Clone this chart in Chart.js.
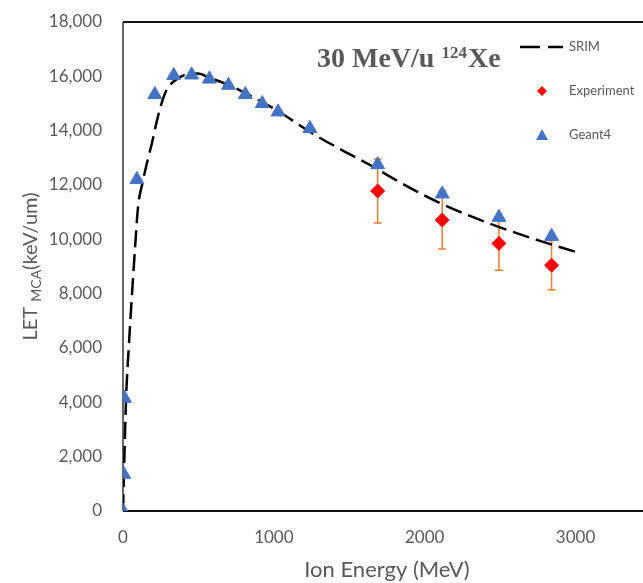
<!DOCTYPE html>
<html>
<head>
<meta charset="utf-8">
<script src="https://cdn.jsdelivr.net/npm/chart.js@4.4.1/dist/chart.umd.min.js"></script>
<style>
  html, body { margin: 0; padding: 0; background: #fff; overflow: hidden; }
  #wrap { width: 643px; height: 583px; overflow: hidden; }
</style>
</head>
<body>
<div id="wrap"><canvas id="let-chart" width="660" height="583"></canvas></div>
<script>
// SRIM stopping curve
const srimEnergy = [0, 2, 7, 20, 40, 57, 80, 100, 130, 167, 190, 222, 250, 277, 300, 365, 410, 495, 573, 692, 811, 923, 1028, 1240, 1430, 1650, 1804, 2057, 2397, 2749, 3000];
const srimLet = [0, 400, 1500, 4100, 6200, 7750, 9700, 11200, 12100, 13000, 13500, 14300, 14900, 15350, 15600, 15930, 16050, 16100, 15950, 15700, 15380, 15050, 14720, 13950, 13350, 12700, 12200, 11450, 10650, 9970, 9540];

// measured LET with error
const expEnergy = [1688, 2116, 2492, 2841];
const expLet = [11780, 10710, 9850, 9050];
const expErr = [1180, 1070, 985, 905];

// Geant4 simulation
const geantEnergy = [0, 5, 10, 92, 211, 336, 455, 573, 699, 811, 923, 1028, 1239, 1688, 2116, 2492, 2841];
const geantLet = [0, 1350, 4150, 12200, 15330, 16030, 16050, 15900, 15670, 15330, 15000, 14690, 14080, 12750, 11670, 10810, 10110];

const xTicks = [0, 1000, 2000, 3000];

const GREY = '#595959';
const FONT = 'Lato, "Open Sans", sans-serif';

const toPoints = (xs, ys) => xs.map((x, i) => ({x: x, y: ys[i]}));

// plot area frame (right edge runs off the page), drawn under the markers
const frame = {
    id: 'frame',
    beforeDatasetsDraw(chart) {
        const {ctx, chartArea: a} = chart;
        ctx.save();
        ctx.strokeStyle = '#111';
        ctx.lineWidth = 2;
        ctx.beginPath();
        ctx.moveTo(a.left, a.top);
        ctx.lineTo(chart.width, a.top);
        ctx.moveTo(a.left, a.bottom);
        ctx.lineTo(chart.width, a.bottom);
        ctx.stroke();
        ctx.strokeStyle = '#333';
        ctx.lineWidth = 1.5;
        ctx.beginPath();
        ctx.moveTo(a.left, a.top);
        ctx.lineTo(a.left, a.bottom);
        ctx.stroke();
        ctx.restore();
    }
};

// vertical error bars for the experiment points
const errorBars = {
    id: 'errorBars',
    beforeDatasetsDraw(chart) {
        const {ctx, scales: {x, y}} = chart;
        ctx.save();
        ctx.strokeStyle = '#ED7D31';
        ctx.lineWidth = 1.5;
        expEnergy.forEach((e, i) => {
            const px = x.getPixelForValue(e);
            const lo = y.getPixelForValue(expLet[i] - expErr[i]);
            const hi = y.getPixelForValue(expLet[i] + expErr[i]);
            ctx.beginPath();
            ctx.moveTo(px, lo);
            ctx.lineTo(px, hi);
            ctx.moveTo(px - 4, lo);
            ctx.lineTo(px + 4, lo);
            ctx.moveTo(px - 4, hi);
            ctx.lineTo(px + 4, hi);
            ctx.stroke();
        });
        ctx.restore();
    }
};

// y title with the MCA subscript, the in-plot title and the legend
const annotations = {
    id: 'annotations',
    afterDraw(chart) {
        const {ctx, chartArea: a} = chart;
        ctx.save();
        ctx.fillStyle = GREY;

        // LET_MCA (keV/um)
        const main = '20px ' + FONT;
        const sub = '14px ' + FONT;
        ctx.font = main;
        const w1 = ctx.measureText('LET ').width;
        const w3 = ctx.measureText('(keV/um)').width;
        ctx.font = sub;
        const w2 = ctx.measureText('MCA').width;
        const total = w1 + w2 + w3;
        ctx.translate(30, (a.top + a.bottom) / 2);
        ctx.rotate(-Math.PI / 2);
        ctx.textBaseline = 'alphabetic';
        ctx.textAlign = 'left';
        let cx = -total / 2;
        ctx.font = main;
        ctx.fillText('LET ', cx, 7);
        cx += w1;
        ctx.font = sub;
        ctx.fillText('MCA', cx, 11);
        cx += w2;
        ctx.font = main;
        ctx.fillText('(keV/um)', cx, 7);
        ctx.setTransform(1, 0, 0, 1, 0, 0);

        // 30 MeV/u 124Xe
        const serif = 'bold 28px "Liberation Serif", "DejaVu Serif", serif';
        const serifSup = 'bold 17px "Liberation Serif", "DejaVu Serif", serif';
        let tx = 317;
        ctx.font = serif;
        ctx.fillText('30 MeV/u ', tx, 67);
        tx += ctx.measureText('30 MeV/u ').width;
        ctx.font = serifSup;
        ctx.fillText('124', tx, 58);
        tx += ctx.measureText('124').width + 1;
        ctx.font = serif;
        ctx.fillText('Xe', tx, 67);

        // legend
        ctx.font = '13px ' + FONT;
        ctx.textBaseline = 'middle';
        ctx.fillText('SRIM', 569, 47);
        ctx.fillText('Experiment', 569, 91);
        ctx.fillText('Geant4', 569, 135);

        ctx.strokeStyle = '#000';
        ctx.lineWidth = 2.5;
        ctx.beginPath();
        ctx.moveTo(520, 47);
        ctx.lineTo(540, 47);
        ctx.moveTo(548, 47);
        ctx.lineTo(563, 47);
        ctx.stroke();

        ctx.fillStyle = '#FF0000';
        ctx.beginPath();
        ctx.moveTo(542, 86);
        ctx.lineTo(547, 91);
        ctx.lineTo(542, 96);
        ctx.lineTo(537, 91);
        ctx.closePath();
        ctx.fill();

        ctx.fillStyle = '#4472C4';
        ctx.beginPath();
        ctx.moveTo(542, 129);
        ctx.lineTo(548, 140);
        ctx.lineTo(536, 140);
        ctx.closePath();
        ctx.fill();
        ctx.restore();
    }
};

new Chart(document.getElementById('let-chart'), {
    type: 'scatter',
    data: {
        datasets: [
            {
                label: 'Geant4',
                data: toPoints(geantEnergy, geantLet),
                pointStyle: 'triangle',
                pointRadius: 8,
                pointBackgroundColor: '#4472C4',
                pointBorderColor: '#4472C4',
                pointBorderWidth: 1,
                order: 0
            },
            {
                label: 'Experiment',
                data: toPoints(expEnergy, expLet),
                pointStyle: 'rectRot',
                pointRadius: 7,
                pointBackgroundColor: '#FF0000',
                pointBorderColor: '#FF0000',
                pointBorderWidth: 1,
                order: 1
            },
            {
                label: 'SRIM',
                type: 'line',
                data: toPoints(srimEnergy, srimLet),
                borderColor: '#000',
                borderWidth: 2.5,
                borderDash: [17, 7],
                pointRadius: 0,
                cubicInterpolationMode: 'monotone',
                fill: false,
                order: 2
            }
        ]
    },
    options: {
        responsive: false,
        animation: false,
        layout: {padding: {top: 22, right: 5, left: 0, bottom: 0}},
        plugins: {
            legend: {display: false},
            tooltip: {enabled: false}
        },
        scales: {
            x: {
                type: 'linear',
                min: 0,
                max: 3500,
                grid: {display: false},
                border: {display: false},
                afterBuildTicks: (scale) => {
                    scale.ticks = xTicks.map(v => ({value: v}));
                },
                afterFit: (scale) => {
                    scale.height = 72;
                    scale.paddingLeft = 0;
                    scale.paddingRight = 0;
                },
                ticks: {
                    color: GREY,
                    font: {family: FONT, size: 17},
                    padding: 8,
                    maxRotation: 0,
                    callback: (v) => String(v)
                },
                title: {
                    display: true,
                    text: 'Ion Energy (MeV)',
                    color: GREY,
                    font: {family: FONT, size: 22},
                    padding: 0
                }
            },
            y: {
                min: 0,
                max: 18000,
                grid: {display: false},
                border: {display: false},
                afterFit: (scale) => {
                    scale.width = 123;
                    scale.paddingTop = 0;
                    scale.paddingBottom = 0;
                },
                ticks: {
                    stepSize: 2000,
                    color: GREY,
                    font: {family: FONT, size: 17},
                    padding: 13,
                    callback: (v) => v.toLocaleString('en-US')
                }
            }
        }
    },
    plugins: [frame, errorBars, annotations]
});
</script>
</body>
</html>
